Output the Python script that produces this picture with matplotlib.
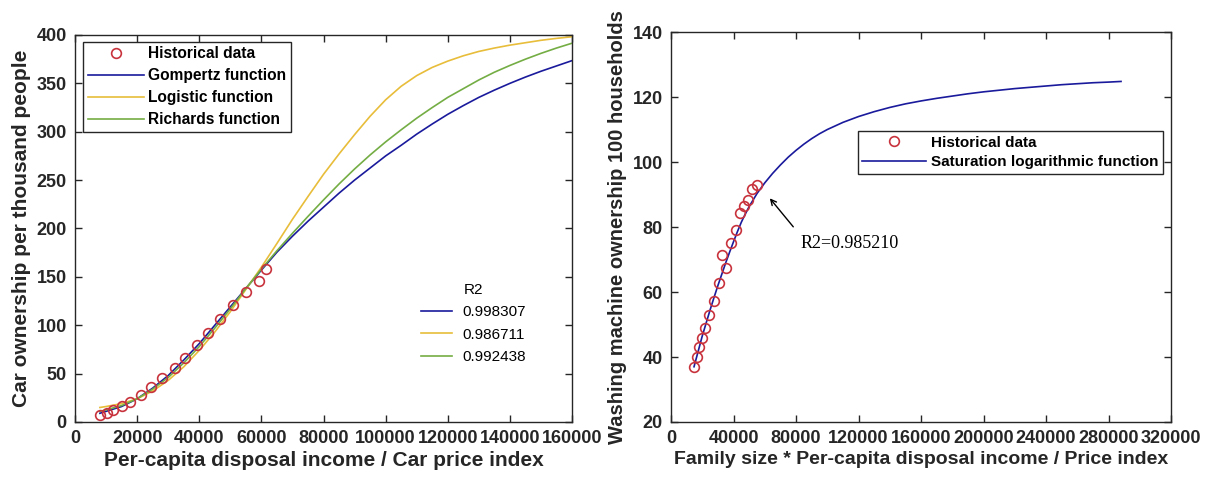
import matplotlib.pyplot as plt
from matplotlib.lines import Line2D

plt.rcParams['font.family'] = ['Liberation Sans', 'DejaVu Sans']

# ---- left panel: car ownership ----
hist_x = [8050, 10200, 12340, 15030, 17700, 21140, 24360, 27900, 32200, 35400,
          39200, 42900, 46700, 50770, 54950, 59240, 61380]
hist_y = [7.2, 9.6, 12.4, 16.5, 20.7, 28.2, 36.5, 45.5, 55.8, 66.5,
          79.3, 91.7, 106.8, 120.9, 134.4, 145.7, 157.8]

curve_x = [8000, 10000, 15000, 20000, 25000, 30000, 35000, 40000, 45000, 50000, 55000,
           60000, 65000, 70000, 75000, 80000, 85000, 90000, 95000, 100000, 105000,
           110000, 115000, 120000, 125000, 130000, 135000, 140000, 145000, 150000,
           155000, 160000]
gompertz_y = [9, 11, 16, 24, 35, 48, 64, 81, 100, 119, 138,
              157, 175.5, 192, 207.5, 222, 236.5, 250, 262.5, 275, 286,
              297.5, 308, 318, 327, 335.5, 343, 350, 356.5, 362.5,
              368, 373.5]
logistic_y = [15, 16, 19, 24, 32, 43, 57, 74, 93, 114, 137,
              160, 184.5, 209.5, 233, 256, 277, 297, 316, 333, 347,
              358, 366.5, 373, 378.5, 383, 386.5, 389.5, 392, 394.5,
              396.5, 398.2]
richards_y = [11, 12.5, 17, 24, 34, 46, 61, 78, 97, 117, 138,
              158, 177, 195, 212.5, 229.5, 246, 261.5, 276, 289.5, 302,
              314, 325, 335.5, 344.5, 353.5, 361.5, 368.5, 375, 381,
              386.5, 391.5]
r2_values = ['0.998307', '0.986711', '0.992438']

# ---- right panel: washing machines ----
wm_x = [14720, 16430, 17920, 19630, 21970, 24530, 27730, 30930, 35000, 32640,
        38190, 41390, 44160, 46720, 49500, 52060, 54860]
wm_y = [37.0, 40.1, 43.0, 45.8, 49.0, 52.9, 57.2, 62.7, 67.3, 71.4,
        75.0, 79.1, 84.2, 86.5, 88.3, 91.6, 92.9]
sat_x = [14700, 17500, 20000, 22500, 25000, 27500, 30000, 32500, 35000, 37500,
         40000, 42500, 45000, 47500, 50000, 55000, 60000, 65000, 70000, 75000,
         80000, 85000, 90000, 95000, 100000, 110000, 120000, 130000, 140000, 150000,
         160000, 170000, 180000, 190000, 200000, 210000, 220000, 230000, 240000,
         250000, 260000, 270000, 280000, 288000]
sat_y = [37.0, 42.0, 46.5, 50.5, 54.5, 58.3, 62.0, 65.5, 69.0, 72.3,
         75.5, 78.6, 81.5, 84.0, 86.3, 90.3, 93.6, 96.5, 99.1, 101.5,
         103.6, 105.5, 107.2, 108.7, 110.0, 112.2, 114.0, 115.5, 116.8, 117.9,
         118.8, 119.6, 120.3, 121.0, 121.6, 122.1, 122.6, 123.0, 123.4,
         123.8, 124.1, 124.4, 124.6, 124.8]

red = '#c8323c'
blue = '#1a1a9c'
yellow = '#e8bd3a'
green = '#74ad44'

fig = plt.figure(figsize=(12.08, 4.82), dpi=100)
ax1 = fig.add_axes([0.0621, 0.1245, 0.4114, 0.8029])
ax2 = fig.add_axes([0.5555, 0.1245, 0.4139, 0.809])

h0, = ax1.plot(hist_x, hist_y, 'o', mfc='none', mec=red, ms=7, mew=1.2, zorder=3)
h1, = ax1.plot(curve_x, gompertz_y, color=blue, lw=1.2)
h2, = ax1.plot(curve_x, logistic_y, color=yellow, lw=1.2)
h3, = ax1.plot(curve_x, richards_y, color=green, lw=1.2)

leg1 = ax1.legend([h0, h1, h2, h3],
                  ['Historical data', 'Gompertz function', 'Logistic function', 'Richards function'],
                  loc='upper left', bbox_to_anchor=(0.016, 0.983), fancybox=False,
                  edgecolor='#262626', framealpha=1, borderpad=0.3, labelspacing=0.45,
                  handlelength=3.6, handletextpad=0.3, borderaxespad=0,
                  prop={'weight': 'bold', 'size': 11.2})
leg1.get_frame().set_linewidth(1.0)
ax1.add_artist(leg1)

r2_handles = [Line2D([], [], color=c, lw=1.2) for c in (blue, yellow, green)]
leg2 = ax1.legend(r2_handles, r2_values, title='R2', loc='lower right',
                  bbox_to_anchor=(0.92, 0.134), frameon=False, prop={'size': 11},
                  title_fontsize=11, handlelength=2.0, handletextpad=0.7, labelspacing=0.55,
                  borderaxespad=0)

ax1.set_xlim(0, 160000)
ax1.set_ylim(0, 400)
ax1.set_xticks(range(0, 160001, 20000))
ax1.set_yticks(range(0, 401, 50))
ax1.set_xlabel('Per-capita disposal income / Car price index', fontsize=15, fontweight='bold',
               labelpad=3)
ax1.set_ylabel('Car ownership per thousand people', fontsize=15, fontweight='bold', labelpad=4)

g0, = ax2.plot(wm_x, wm_y, 'o', mfc='none', mec=red, ms=7, mew=1.2, zorder=3)
g1, = ax2.plot(sat_x, sat_y, color=blue, lw=1.2)
leg3 = ax2.legend([g0, g1], ['Historical data', 'Saturation logarithmic function'],
                  loc='upper right', bbox_to_anchor=(0.984, 0.746), fancybox=False,
                  edgecolor='#262626', framealpha=1, borderpad=0.3, labelspacing=0.35,
                  handlelength=4.2, handletextpad=0.3, borderaxespad=0,
                  prop={'weight': 'bold', 'size': 11})
leg3.get_frame().set_linewidth(1.0)

ax2.annotate('', xy=(62080, 89.5), xytext=(79360, 79.4),
             arrowprops=dict(arrowstyle='->', color='black', lw=1.0))
ax2.text(82560, 75.0, 'R2=0.985210', family='Liberation Serif', fontsize=13,
         ha='left', va='center')

ax2.set_xlim(0, 320000)
ax2.set_ylim(20, 140)
ax2.set_xticks(range(0, 320001, 40000))
ax2.set_yticks(range(20, 141, 20))
ax2.set_xlabel('Family size * Per-capita disposal income / Price index', fontsize=14,
               fontweight='bold', labelpad=3)
ax2.set_ylabel('Washing machine ownership 100 households', fontsize=14.5, fontweight='bold',
               labelpad=4)

for ax in (ax1, ax2):
    ax.tick_params(direction='in', top=True, right=True, length=5, width=1,
                   labelsize=13, colors='#262626', pad=6)
    for lab in ax.get_xticklabels() + ax.get_yticklabels():
        lab.set_fontweight('bold')
    for sp in ax.spines.values():
        sp.set_color('#262626')
        sp.set_linewidth(1.0)
    ax.xaxis.label.set_color('#262626')
    ax.yaxis.label.set_color('#262626')

fig.savefig('out.png', dpi=100)
